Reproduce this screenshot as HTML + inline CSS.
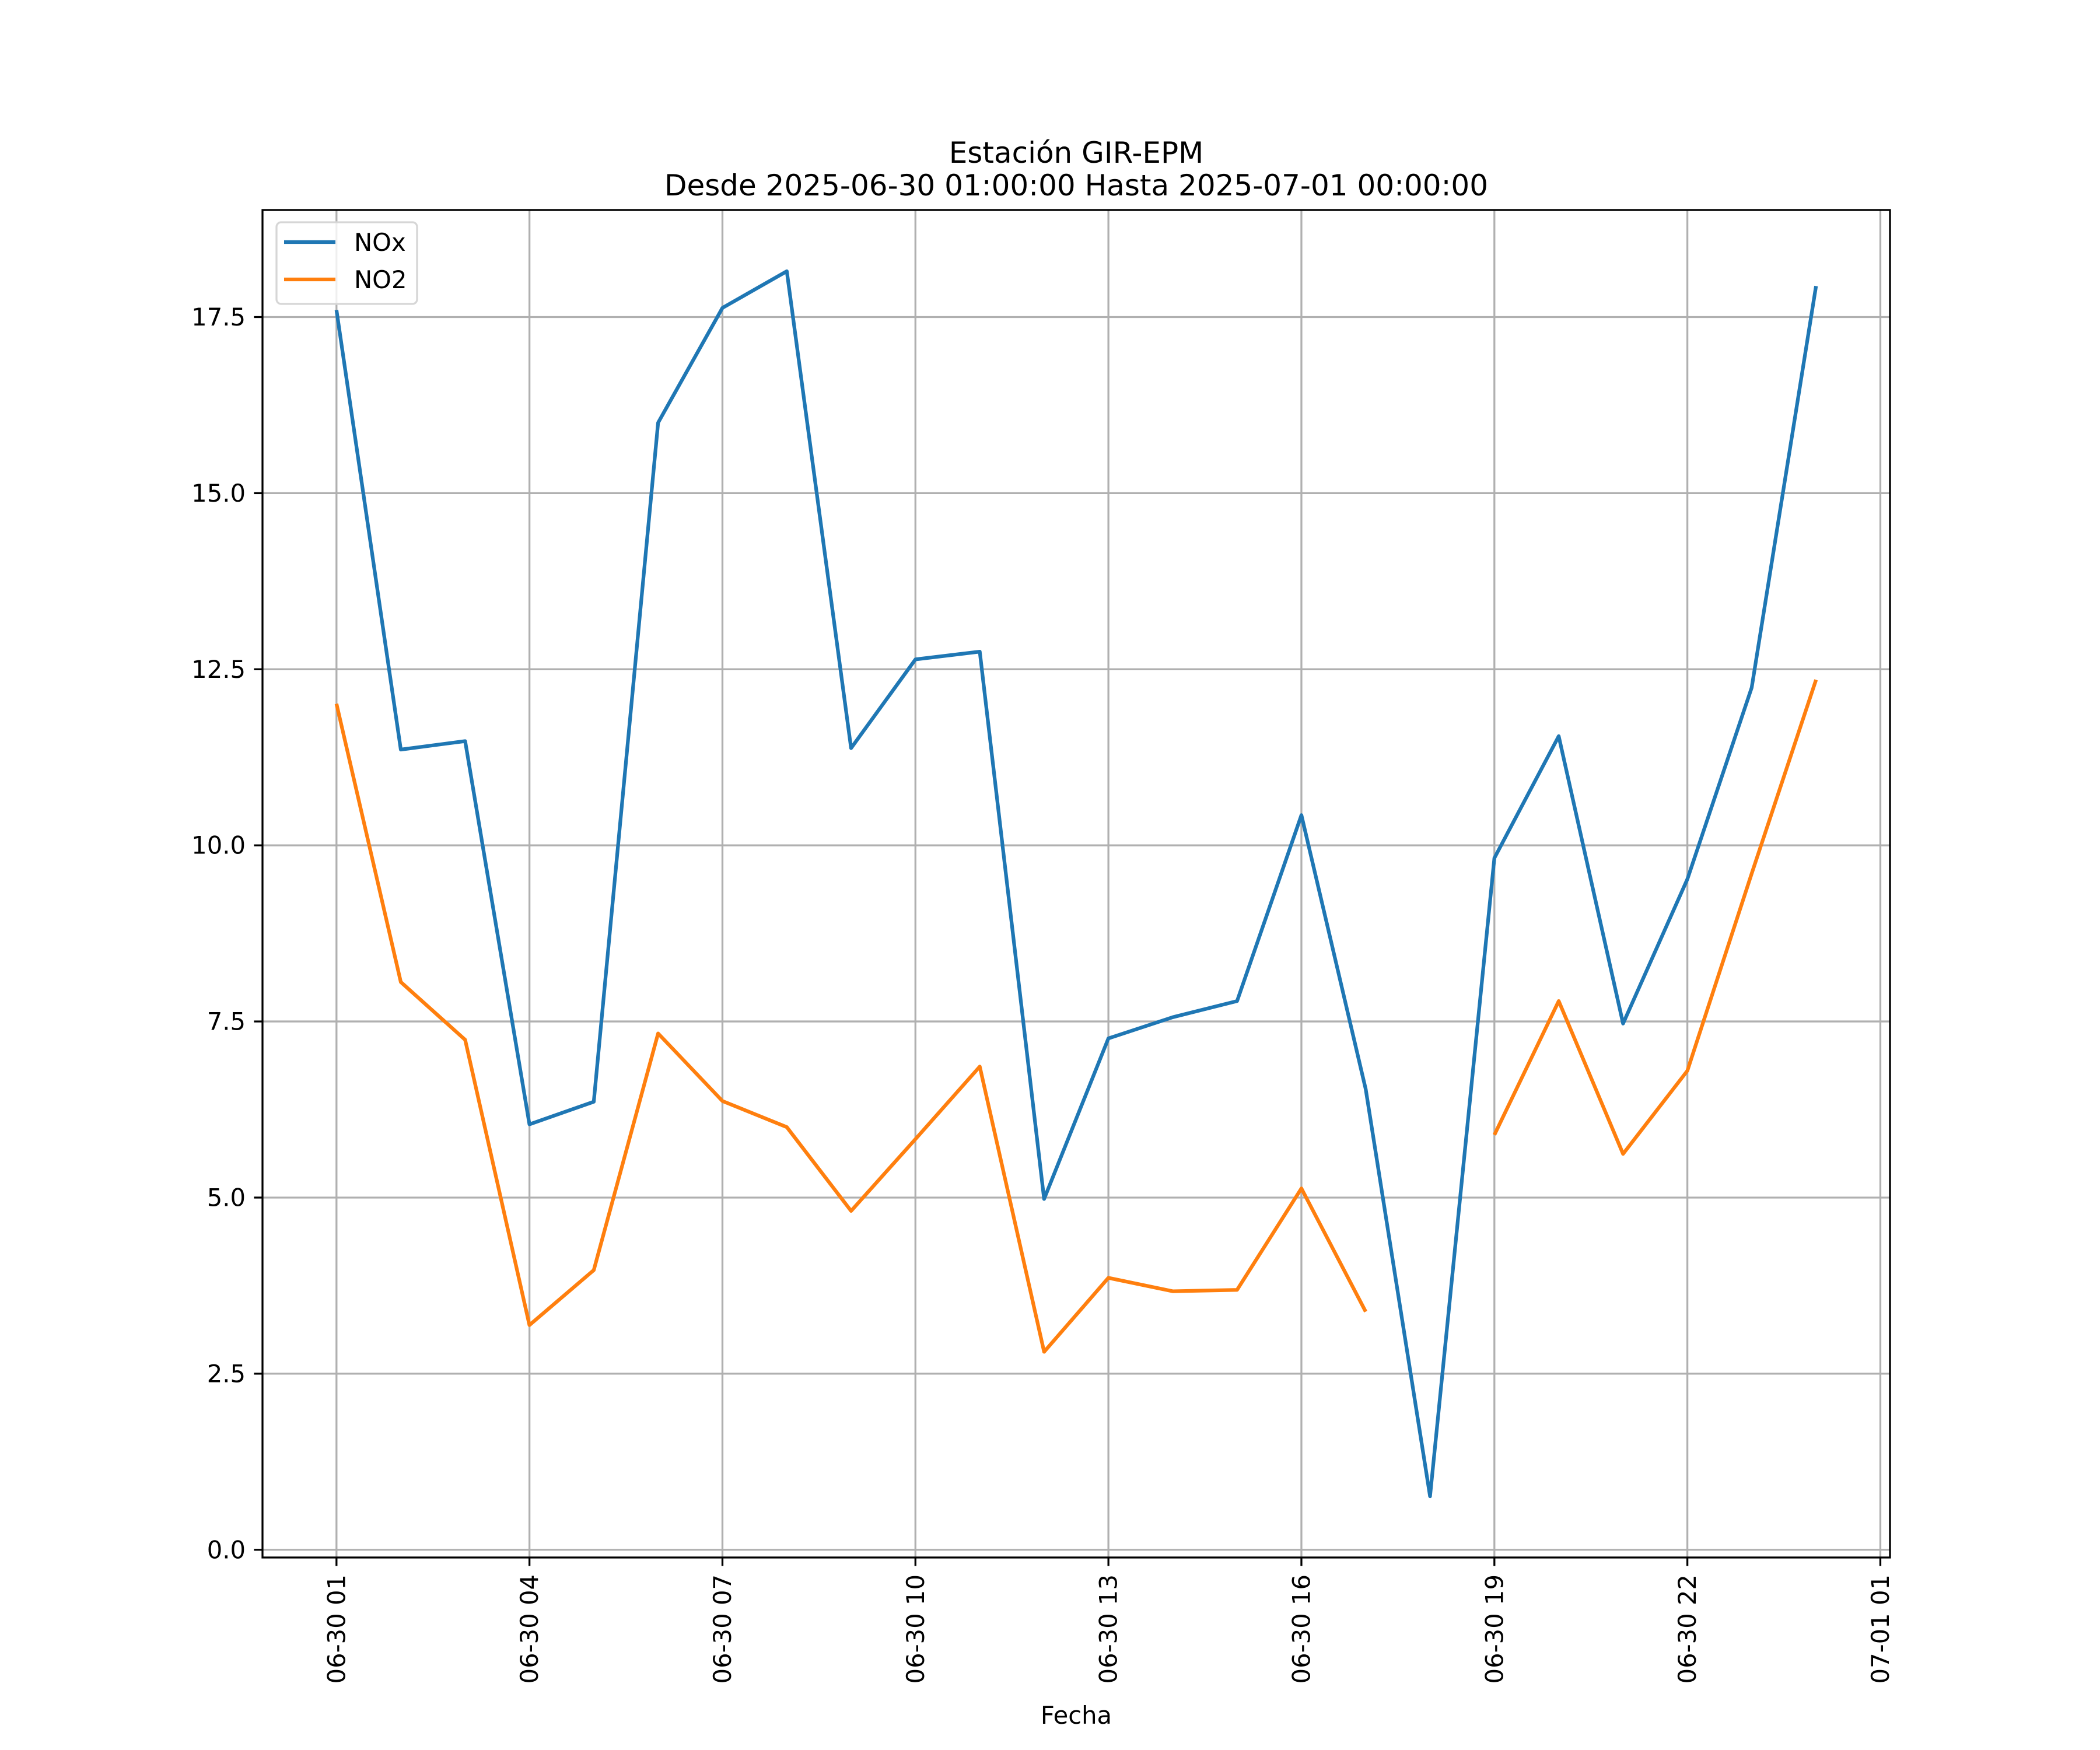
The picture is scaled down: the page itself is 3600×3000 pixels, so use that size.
<!DOCTYPE html>
<html><head><meta charset="utf-8"><style>
html,body{margin:0;padding:0;background:#fff}
svg{display:block;font-family:"DejaVu Sans","Liberation Sans",sans-serif}
</style></head><body>
<svg id="chart" width="3600" height="3000" viewBox="0 0 3600 3000" xmlns="http://www.w3.org/2000/svg">
<rect x="0" y="0" width="3600" height="3000" fill="#fff"/>
<g id="grid"></g>
<g id="series"></g>
<rect x="450" y="360" width="2790" height="2310" fill="none" stroke="#000" stroke-width="3.3"/>
<g id="ticks"></g>
<text x="1845" y="279" font-size="50" text-anchor="middle">Estación GIR-EPM</text>
<text x="1845" y="335" font-size="50" text-anchor="middle">Desde 2025-06-30 01:00:00 Hasta 2025-07-01 00:00:00</text>
<text x="1845" y="2955" font-size="41.7" text-anchor="middle">Fecha</text>
<g>
<rect x="474" y="381" width="241" height="140" rx="8" fill="#fff" fill-opacity="0.8" stroke="#d6d6d6" stroke-width="3.3"/>
<line x1="487" y1="415" x2="575" y2="415" stroke="#1f77b4" stroke-width="6.25"/>
<text x="607" y="430" font-size="41.7">NOx</text>
<line x1="487" y1="479" x2="575" y2="479" stroke="#ff7f0e" stroke-width="6.25"/>
<text x="607" y="494" font-size="41.7">NO2</text>
</g>
</svg>
<script>
const hours = [1,2,3,4,5,6,7,8,9,10,11,12,13,14,15,16,17,18,19,20,21,22,23,24];
const noxValues = [17.6,11.36,11.48,6.04,6.36,16.0,17.63,18.15,11.38,12.64,12.75,4.98,7.26,7.56,7.79,10.43,6.54,0.76,9.82,11.55,7.47,9.52,12.24,17.94];
const no2Values = [12.01,8.06,7.24,3.19,3.97,7.33,6.37,6.0,4.81,5.83,6.86,2.81,3.86,3.67,3.69,5.13,3.38,null,5.89,7.79,5.62,6.8,9.6,12.35];
const xTickHours = [1,4,7,10,13,16,19,22,25];
const xTickLabels = ["06-30 01","06-30 04","06-30 07","06-30 10","06-30 13","06-30 16","06-30 19","06-30 22","07-01 01"];
const yTickValues = [0,2.5,5,7.5,10,12.5,15,17.5];
const yTickLabels = ["0.0","2.5","5.0","7.5","10.0","12.5","15.0","17.5"];

const NS = "http://www.w3.org/2000/svg";
const L = 450, R = 3240, T = 360, B = 2670;
const xmin = 1 - 23*0.05, xmax = 24 + 23*0.05;
const all = noxValues.concat(no2Values).filter(v => v !== null);
const dmin = Math.min(...all), dmax = Math.max(...all), dr = dmax - dmin;
const ymin = dmin - dr*0.05, ymax = dmax + dr*0.05;
const xs = h => L + (h - xmin) / (xmax - xmin) * (R - L);
const ys = v => B - (v - ymin) / (ymax - ymin) * (B - T);
function mk(tag, attrs, parent) {
  const e = document.createElementNS(NS, tag);
  for (const k in attrs) e.setAttribute(k, attrs[k]);
  parent.appendChild(e);
  return e;
}
const grid = document.getElementById('grid');
const ticks = document.getElementById('ticks');
xTickHours.forEach((h, i) => {
  const x = xs(h);
  const g = mk('line', {x1:x, y1:T, x2:x, y2:B, stroke:'#b0b0b0', 'stroke-width':3.3}, grid);
  
  
  const t = mk('line', {x1:x, y1:B, x2:x, y2:B+14.6, stroke:'#000', 'stroke-width':3.3}, ticks);
  
  
  const y0 = B + 29;
  const lb = mk('text', {x:x, y:y0, 'font-size':41.7, 'text-anchor':'end', 'dominant-baseline':'central', transform:`rotate(-90 ${x} ${y0})`}, ticks);
  lb.textContent = xTickLabels[i];
  
  
});
yTickValues.forEach((v, i) => {
  const y = ys(v);
  const g = mk('line', {x1:L, y1:y, x2:R, y2:y, stroke:'#b0b0b0', 'stroke-width':3.3}, grid);
  
  
  const t = mk('line', {x1:L-14.6, y1:y, x2:L, y2:y, stroke:'#000', 'stroke-width':3.3}, ticks);
  
  
  const lb = mk('text', {x:L-29, y:y, 'font-size':41.7, 'text-anchor':'end', 'dominant-baseline':'central'}, ticks);
  lb.textContent = yTickLabels[i];
  
  
});
function pathFor(vals) {
  let d = '', pen = false;
  vals.forEach((v, i) => {
    if (v === null) { pen = false; return; }
    d += (pen ? 'L' : 'M') + xs(hours[i]).toFixed(1) + ' ' + ys(v).toFixed(1) + ' ';
    pen = true;
  });
  return d;
}
const series = document.getElementById('series');
const p1 = mk('path', {d:pathFor(noxValues), fill:'none', stroke:'#1f77b4', 'stroke-width':6.25, 'stroke-linejoin':'round'}, series);


const p2 = mk('path', {d:pathFor(no2Values), fill:'none', stroke:'#ff7f0e', 'stroke-width':6.25, 'stroke-linejoin':'round'}, series);


</script>
</body></html>
